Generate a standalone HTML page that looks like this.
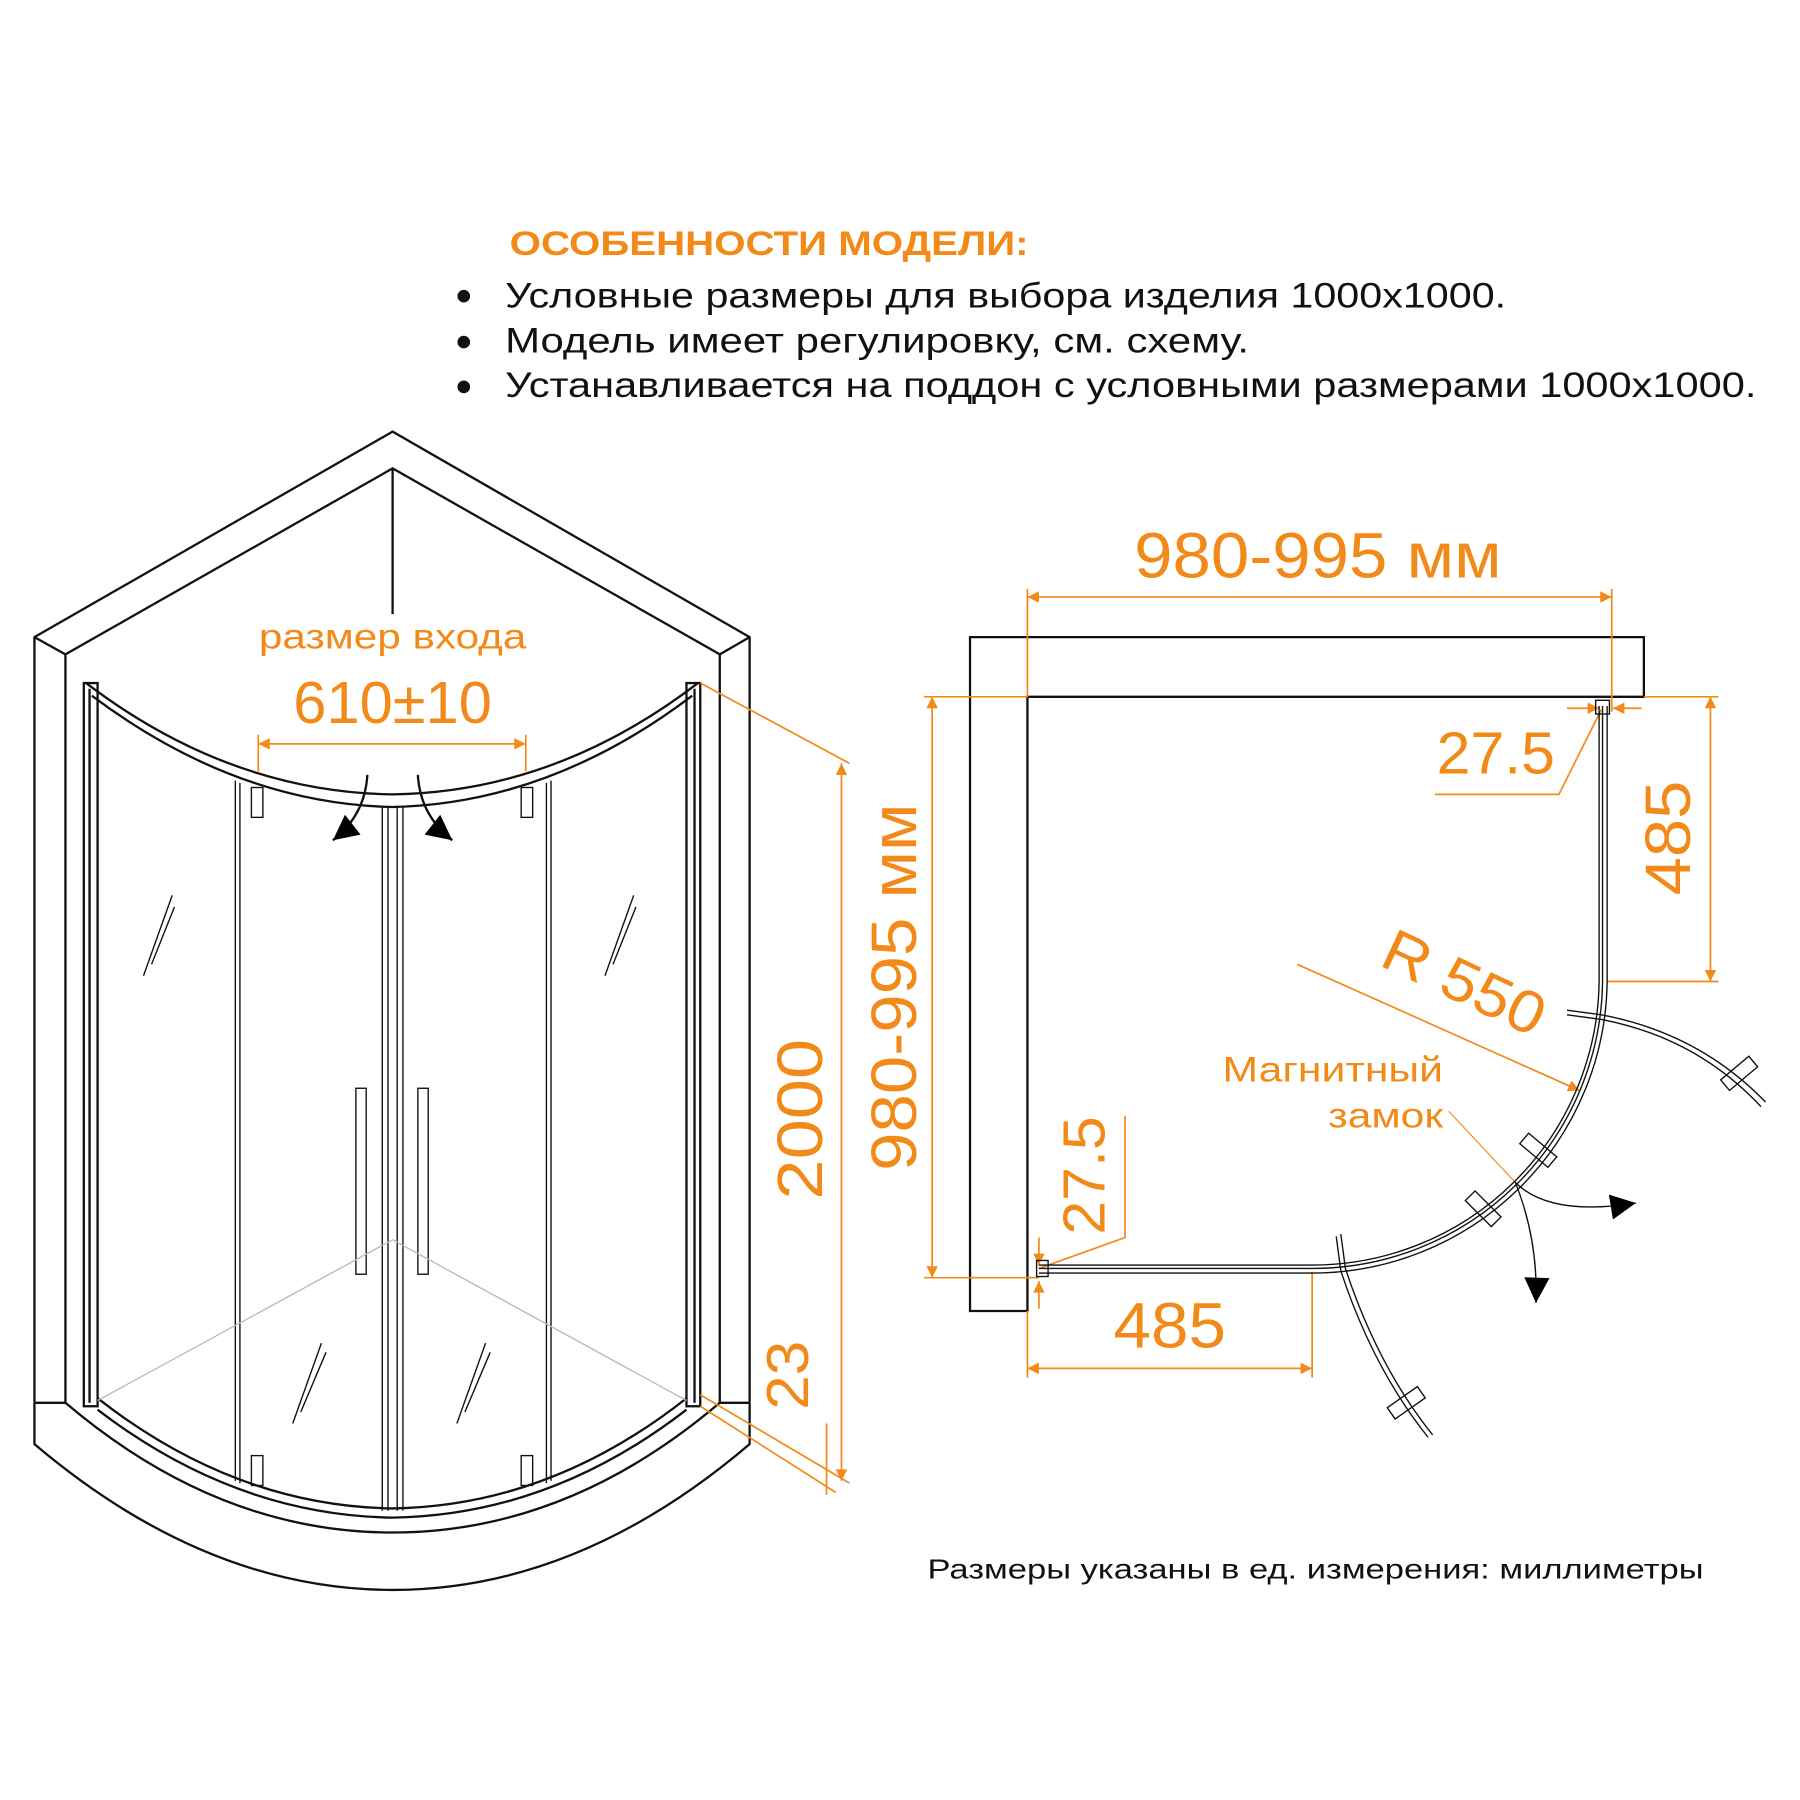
<!DOCTYPE html>
<html><head><meta charset="utf-8"><style>
html,body{margin:0;padding:0;background:#fff;}
svg{display:block;}
text{font-family:"Liberation Sans","DejaVu Sans",sans-serif;}
.o{fill:#f28a1a;}
.ol{stroke:#f28a1a;stroke-width:1.5;fill:none;}
.k{stroke:#111;stroke-width:2;fill:none;}
.k1{stroke:#111;stroke-width:1.2;fill:none;}
</style></head><body>
<svg width="1800" height="1800" viewBox="0 0 1568 1568" xmlns="http://www.w3.org/2000/svg">
<defs>
<marker id="a" viewBox="0 0 10 10" refX="10" refY="5" markerWidth="20" markerHeight="10" orient="auto-start-reverse" markerUnits="userSpaceOnUse"><path d="M0,0L10,5L0,10z" fill="#f28a1a"/></marker>
<marker id="b" viewBox="0 0 10 10" refX="10" refY="5" markerWidth="26" markerHeight="22" orient="auto" markerUnits="userSpaceOnUse"><path d="M0,0L10,5L0,10z" fill="#000"/></marker>
</defs>
<text x="444" y="222" font-size="30" font-weight="bold" class="o" textLength="452" lengthAdjust="spacingAndGlyphs">ОСОБЕННОСТИ МОДЕЛИ:</text>
<g font-size="31" fill="#111">
<circle cx="404" cy="258" r="5.5"/><text x="440" y="268" textLength="872" lengthAdjust="spacingAndGlyphs">Условные размеры для выбора изделия 1000x1000.</text>
<circle cx="404" cy="298" r="5.5"/><text x="440" y="307" textLength="648" lengthAdjust="spacingAndGlyphs">Модель имеет регулировку, см. схему.</text>
<circle cx="404" cy="337" r="5.5"/><text x="440" y="346" textLength="1090" lengthAdjust="spacingAndGlyphs">Устанавливается на поддон с условными размерами 1000x1000.</text>
</g>
<g class="k">
<path d="M30,1222V555L342,376L653,555V1222"/>
<path d="M57,1222V570L342,408L627,570V1222"/>
<line x1="30" y1="555" x2="57" y2="570"/><line x1="653" y1="555" x2="627" y2="570"/>
<line x1="342" y1="408" x2="342" y2="535"/>
<path d="M30,1222V1258Q180,1385 342,1385Q504,1385 653,1258V1222"/>
<path d="M30,1222L57,1222M653,1222L627,1222"/>
<path d="M57,1222Q190,1335 342,1335Q494,1335 627,1222"/>
<path d="M75,595Q200,690 342,692Q484,690 608,595"/>
<path d="M80,606Q205,700 342,703Q479,700 603,606"/>
<rect x="73" y="595" width="12" height="630"/>
<rect x="598" y="595" width="12" height="630"/>
<path d="M85,1218Q205,1312 342,1314Q479,1312 598,1218"/>
<path d="M85,1228Q205,1320 342,1322Q479,1320 598,1228"/>
<line x1="78" y1="600" x2="78" y2="1222"/><line x1="605" y1="600" x2="605" y2="1222"/>
</g>
<g class="k1">
<line x1="205" y1="680" x2="205" y2="1290"/><line x1="209" y1="682" x2="209" y2="1292"/>
<line x1="333" y1="702" x2="333" y2="1316"/><line x1="338" y1="702" x2="338" y2="1316"/>
<line x1="346" y1="702" x2="346" y2="1316"/><line x1="351" y1="702" x2="351" y2="1316"/>
<line x1="476" y1="682" x2="476" y2="1292"/><line x1="480" y1="680" x2="480" y2="1290"/>
<rect x="219" y="686" width="10" height="26"/><rect x="454" y="686" width="10" height="26"/>
<rect x="219" y="1268" width="10" height="26"/><rect x="454" y="1268" width="10" height="26"/>
<rect x="310" y="948" width="9" height="162"/><rect x="364" y="948" width="9" height="162"/>
<path d="M125,850L150,780M132,840L152,790M527,850L552,780M534,840L554,790M255,1240L280,1170M262,1230L284,1178M398,1240L423,1170M405,1230L427,1178"/>
</g>
<path d="M85,1220L342,1080L598,1220" stroke="#bbb" stroke-width="1.2" fill="none"/>
<path d="M320,675Q318,710 290,732" class="k" marker-end="url(#b)"/>
<path d="M364,675Q366,710 394,732" class="k" marker-end="url(#b)"/>
<text x="342" y="565" font-size="31" text-anchor="middle" class="o" textLength="233" lengthAdjust="spacingAndGlyphs">размер входа</text>
<text x="342" y="630" font-size="52" text-anchor="middle" class="o" textLength="173" lengthAdjust="spacingAndGlyphs">610±10</text>
<line x1="225" y1="648" x2="458" y2="648" class="ol" marker-start="url(#a)" marker-end="url(#a)"/>
<line x1="225" y1="640" x2="225" y2="672" class="ol"/><line x1="458" y1="640" x2="458" y2="672" class="ol"/>
<line x1="610" y1="595" x2="740" y2="665" class="ol"/>
<line x1="610" y1="1215" x2="740" y2="1292" class="ol"/>
<line x1="610" y1="1225" x2="728" y2="1300" class="ol"/>
<line x1="733" y1="665" x2="733" y2="1290" class="ol" marker-start="url(#a)" marker-end="url(#a)"/>
<line x1="720" y1="1240" x2="720" y2="1302" class="ol"/>
<text transform="translate(716,975) rotate(-90)" font-size="56" text-anchor="middle" class="o" textLength="140" lengthAdjust="spacingAndGlyphs">2000</text>
<text transform="translate(704,1198) rotate(-90)" font-size="52" text-anchor="middle" class="o" textLength="60" lengthAdjust="spacingAndGlyphs">23</text>
<path d="M845,555H1432V607H895V1142H845Z" class="k" stroke-width="2.5"/>
<text x="1148" y="503" font-size="56" text-anchor="middle" class="o" textLength="320" lengthAdjust="spacingAndGlyphs">980-995 мм</text>
<line x1="895" y1="520" x2="1404" y2="520" class="ol" marker-start="url(#a)" marker-end="url(#a)"/>
<line x1="895" y1="513" x2="895" y2="607" class="ol"/><line x1="1404" y1="513" x2="1404" y2="620" class="ol"/>
<line x1="812" y1="607" x2="812" y2="1113" class="ol" marker-start="url(#a)" marker-end="url(#a)"/>
<line x1="805" y1="607" x2="895" y2="607" class="ol"/><line x1="805" y1="1113" x2="905" y2="1113" class="ol"/>
<text transform="translate(798,860) rotate(-90)" font-size="56" text-anchor="middle" class="o" textLength="320" lengthAdjust="spacingAndGlyphs">980-995 мм</text>
<line x1="1490" y1="607" x2="1490" y2="855" class="ol" marker-start="url(#a)" marker-end="url(#a)"/>
<line x1="1432" y1="607" x2="1497" y2="607" class="ol"/><line x1="1400" y1="855" x2="1497" y2="855" class="ol"/>
<text transform="translate(1472,730) rotate(-90)" font-size="56" text-anchor="middle" class="o" textLength="100" lengthAdjust="spacingAndGlyphs">485</text>
<line x1="895" y1="1192" x2="1143" y2="1192" class="ol" marker-start="url(#a)" marker-end="url(#a)"/>
<line x1="895" y1="1142" x2="895" y2="1200" class="ol"/><line x1="1143" y1="1108" x2="1143" y2="1200" class="ol"/>
<text x="1019" y="1174" font-size="56" text-anchor="middle" class="o" textLength="98" lengthAdjust="spacingAndGlyphs">485</text>
<text x="1303" y="674" font-size="52" text-anchor="middle" class="o" textLength="103" lengthAdjust="spacingAndGlyphs">27.5</text>
<path d="M1250,692H1358L1395,618" class="ol"/>
<line x1="1365" y1="617" x2="1393" y2="617" class="ol" marker-end="url(#a)"/>
<line x1="1430" y1="617" x2="1405" y2="617" class="ol" marker-end="url(#a)"/>
<text transform="translate(962,1024) rotate(-90)" font-size="52" text-anchor="middle" class="o" textLength="103" lengthAdjust="spacingAndGlyphs">27.5</text>
<path d="M905,1105L980,1078V972" class="ol"/>
<line x1="905" y1="1078" x2="905" y2="1102" class="ol" marker-end="url(#a)"/>
<line x1="905" y1="1140" x2="905" y2="1116" class="ol" marker-end="url(#a)"/>
<line x1="1130" y1="840" x2="1376" y2="950" class="ol" marker-end="url(#a)"/>
<text transform="translate(1268,872) rotate(25)" font-size="52" text-anchor="middle" class="o" textLength="150" lengthAdjust="spacingAndGlyphs">R 550</text>
<text x="1161" y="942" font-size="31" text-anchor="middle" class="o" textLength="192" lengthAdjust="spacingAndGlyphs">Магнитный</text>
<text x="1207" y="982" font-size="31" text-anchor="middle" class="o" textLength="100" lengthAdjust="spacingAndGlyphs">замок</text>
<path d="M1262,968L1320,1030" stroke="#f28a1a" stroke-width="1" fill="none"/>
<g class="k1">
<path d="M1393,615V855A250,250 0 0 1 1143,1102H905"/>
<path d="M1396,615V855A253,253 0 0 1 1143,1105H905"/>
<path d="M1400,615V855A257,257 0 0 1 1143,1109H905"/>
<rect x="1390" y="610" width="12" height="12"/><rect x="903" y="1098" width="10" height="14"/>
<path d="M1365,880L1395,884Q1480,900 1538,960"/><path d="M1365,884L1395,888Q1478,904 1534,964"/>
<rect x="-6" y="-16" width="12" height="32" transform="translate(1515,935) rotate(50)"/>
<path d="M1168,1075L1172,1105Q1200,1190 1248,1250"/><path d="M1164,1077L1168,1107Q1196,1192 1244,1252"/>
<rect x="-6" y="-16" width="12" height="32" transform="translate(1225,1222) rotate(55)"/>
<rect x="-6" y="-16" width="12" height="32" transform="translate(1340,1002) rotate(-50)"/>
<rect x="-6" y="-16" width="12" height="32" transform="translate(1292,1053) rotate(-45)"/>
</g>
<path d="M1320,1030Q1350,1060 1425,1048" class="k1" marker-end="url(#b)"/>
<path d="M1320,1030Q1340,1080 1338,1135" class="k1" marker-end="url(#b)"/>
<text x="1146" y="1375" font-size="24" text-anchor="middle" fill="#111" textLength="676" lengthAdjust="spacingAndGlyphs">Размеры указаны в ед. измерения: миллиметры</text>
</svg>
</body></html>
